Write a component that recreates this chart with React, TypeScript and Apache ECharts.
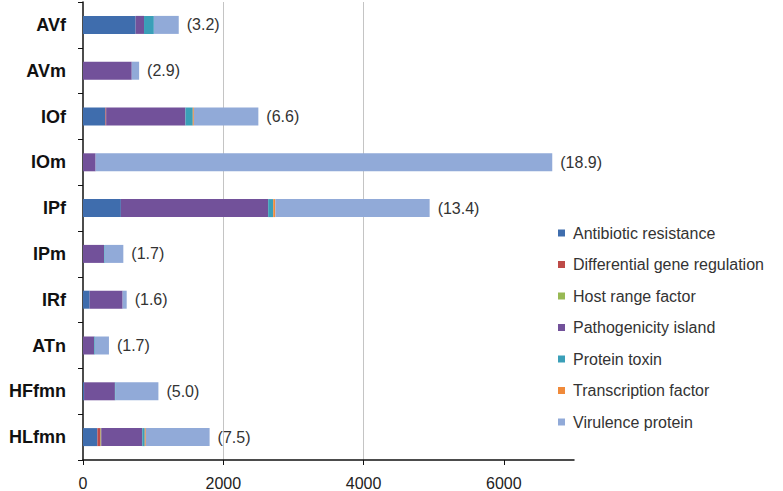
import React, { useEffect, useRef } from "react";
import * as echarts from "echarts";

const categories = ["AVf", "AVm", "IOf", "IOm", "IPf", "IPm", "IRf", "ATn", "HFfmn", "HLfmn"];
const totalLabels = ["(3.2)", "(2.9)", "(6.6)", "(18.9)", "(13.4)", "(1.7)", "(1.6)", "(1.7)", "(5.0)", "(7.5)"];

const antibioticResistance = [750, 0, 320, 0, 540, 0, 95, 0, 15, 205];
const differentialGeneRegulation = [0, 0, 10, 0, 0, 0, 0, 0, 0, 45];
const hostRangeFactor = [0, 0, 0, 0, 0, 0, 0, 0, 0, 10];
const pathogenicityIsland = [120, 695, 1130, 180, 2100, 300, 470, 160, 440, 585];
const proteinToxin = [140, 0, 105, 0, 72, 10, 0, 10, 10, 35];
const transcriptionFactor = [0, 0, 15, 0, 30, 0, 0, 0, 0, 15];
const virulenceProtein = [355, 105, 920, 6510, 2200, 265, 58, 200, 610, 910];

const xTicks = [0, 2000, 4000, 6000];

const seriesDefs = [
  { name: "Antibiotic resistance", data: antibioticResistance, color: "#3F6DAD" },
  { name: "Differential gene regulation", data: differentialGeneRegulation, color: "#BE4B48" },
  { name: "Host range factor", data: hostRangeFactor, color: "#98B954" },
  { name: "Pathogenicity island", data: pathogenicityIsland, color: "#72519A" },
  { name: "Protein toxin", data: proteinToxin, color: "#3A9FB8" },
  { name: "Transcription factor", data: transcriptionFactor, color: "#F08A3A" },
  { name: "Virulence protein", data: virulenceProtein, color: "#91AAD8" },
];

export default function App() {
  const ref = useRef<HTMLDivElement>(null);
  useEffect(() => {
    if (!ref.current) return;
    const chart = echarts.init(ref.current, undefined, { renderer: "svg" });
    const font = "'Liberation Sans', Arial, sans-serif";
    chart.setOption({
      animation: false,
      textStyle: { fontFamily: font },
      grid: { left: 83, right: 209, top: 2, bottom: 31, containLabel: false },
      legend: {
        orient: "vertical",
        left: 553,
        top: 220,
        icon: "rect",
        itemWidth: 7,
        itemHeight: 7,
        itemGap: 15.5,
        textStyle: { fontSize: 16, color: "#333", fontFamily: font, padding: [0, 0, 0, 3] },
        data: seriesDefs.map((s) => s.name),
      },
      xAxis: {
        type: "value",
        min: 0,
        max: 7000,
        interval: 1000,
        axisLine: { show: true, lineStyle: { color: "#111", width: 1.5 } },
        axisTick: { show: true, length: 5, lineStyle: { color: "#111" }, customValues: xTicks },
        axisLabel: {
          fontSize: 16,
          color: "#222",
          margin: 15,
          customValues: xTicks,
          fontFamily: font,
          formatter: (v: number) => String(v),
        },
        splitLine: {
          show: true,
          showMaxLine: false,
          showMinLine: false,
          lineStyle: { color: "#c4c4c4", width: 1 },
        },
      },
      yAxis: {
        type: "category",
        inverse: true,
        data: categories,
        axisLine: { show: true, lineStyle: { color: "#111", width: 1.5 } },
        axisTick: { show: true, length: 5, inside: false, lineStyle: { color: "#111" } },
        axisLabel: { fontSize: 18, fontWeight: "bold", color: "#111", margin: 17, fontFamily: font },
        splitLine: { show: false },
      },
      series: seriesDefs.map((s, i) => ({
        name: s.name,
        type: "bar",
        stack: "total",
        barWidth: 18,
        data: s.data,
        itemStyle: { color: s.color },
        label:
          i === seriesDefs.length - 1
            ? {
                show: true,
                position: "right",
                distance: 8,
                fontSize: 16,
                color: "#333",
                fontFamily: font,
                formatter: (p: any) => totalLabels[p.dataIndex],
              }
            : { show: false },
      })),
    });
    return () => chart.dispose();
  }, []);
  return <div ref={ref} style={{ width: 783, height: 491, position: "absolute", left: 0, top: 0 }} />;
}
